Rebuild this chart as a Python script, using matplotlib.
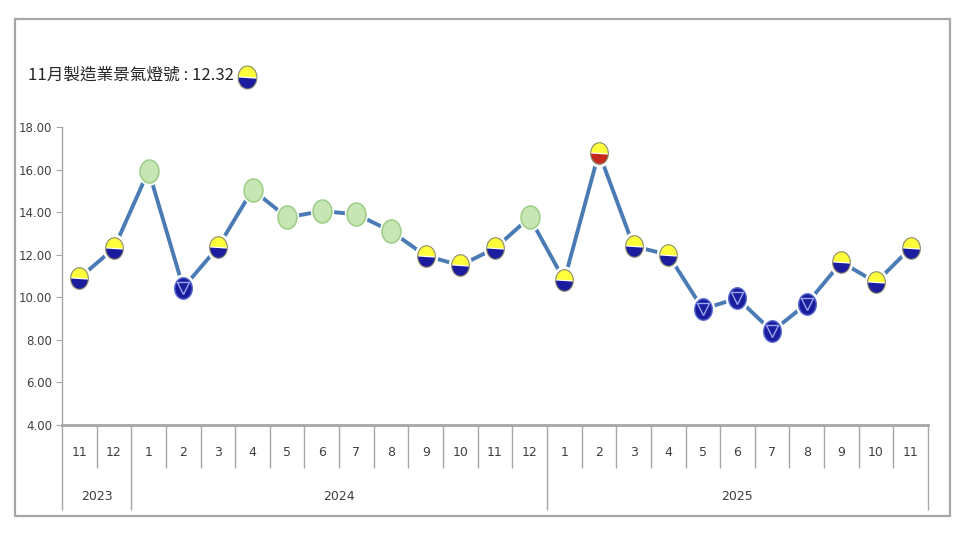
import numpy as np
import matplotlib
matplotlib.use("Agg")
import matplotlib.pyplot as plt
from matplotlib.path import Path
from matplotlib.patches import Rectangle

# monthly manufacturing business indicator score and its light signal
years = ["2023", "2023", "2024", "2024", "2024", "2024", "2024", "2024", "2024", "2024",
         "2024", "2024", "2024", "2024", "2025", "2025", "2025", "2025", "2025", "2025",
         "2025", "2025", "2025", "2025", "2025"]
months = [11, 12, 1, 2, 3, 4, 5, 6, 7, 8, 9, 10, 11, 12, 1, 2, 3, 4, 5, 6, 7, 8, 9, 10, 11]
values = [10.9, 12.3, 15.95, 10.45, 12.35, 15.05, 13.75, 14.05, 13.9, 13.1, 11.95, 11.5,
          12.3, 13.75, 10.8, 16.8, 12.4, 12.0, 9.45, 9.95, 8.4, 9.7, 11.65, 10.7, 12.32]
# yb = yellow-blue, g = green, b = blue, yr = yellow-red
signals = ["yb", "yb", "g", "b", "yb", "g", "g", "g", "g", "g", "yb", "yb",
           "yb", "g", "yb", "yr", "yb", "yb", "b", "b", "b", "b", "yb", "yb", "yb"]
y_ticks = [4, 6, 8, 10, 12, 14, 16, 18]

GRAY = "#a6a6a6"
LINE = "#4a7bb5"
YELLOW = "#ffff3c"
NAVY = "#1c1c9e"
RED = "#c62a1e"
GREEN = "#c8e6b4"
GREEN_EDGE = "#9fcf8a"

# ellipse shaped markers (a bit taller than wide like the original)
t_full = np.linspace(0, 2 * np.pi, 60)
t_top = np.linspace(0, np.pi, 30)
t_bot = np.linspace(np.pi, 2 * np.pi, 30)
ell = Path(np.column_stack([0.82 * np.cos(t_full), np.sin(t_full)]), closed=True)
top_half = Path(np.column_stack([0.82 * np.cos(t_top), np.sin(t_top)]), closed=True)
bot_half = Path(np.column_stack([0.82 * np.cos(t_bot), np.sin(t_bot)]), closed=True)

plt.rcParams["font.family"] = ["Liberation Sans Narrow", "DejaVu Sans"]

fig = plt.figure(figsize=(9.6, 5.4), dpi=100)
ax = fig.add_axes([62 / 960, 115 / 540, 866 / 960, 298 / 540])

x = np.arange(len(values))
ax.plot(x, values, color=LINE, lw=2.8, zorder=2, solid_capstyle="butt")

ms = 15.5
sig = np.array(signals)
vals = np.array(values)


def pts(kind):
    m = sig == kind
    return x[m], vals[m]


# white halo so the line stops short of each light
ax.plot(x, vals, ls="none", marker=ell, ms=ms + 5, mfc="white", mec="none", zorder=3)

# green
gx, gy = pts("g")
ax.plot(gx, gy, ls="none", marker=ell, ms=ms + 1, mfc=GREEN, mec=GREEN_EDGE, mew=1.2, zorder=4)

# yellow-blue and yellow-red
for kind, low in [("yb", NAVY), ("yr", RED)]:
    hx, hy = pts(kind)
    ax.plot(hx, hy, ls="none", marker=top_half, ms=ms, mfc=YELLOW, mec="none", zorder=4)
    ax.plot(hx, hy, ls="none", marker=bot_half, ms=ms, mfc=low, mec="none", zorder=4)
    ax.plot(hx, hy, ls="none", marker=ell, ms=ms, mfc="none", mec="#8a8a6a", mew=0.8, zorder=5)

# blue
bx, by = pts("b")
ax.plot(bx, by, ls="none", marker=ell, ms=ms, mfc=NAVY, mec="#5b6fd0", mew=1.0, zorder=4)
ax.plot(bx, by, ls="none", marker="v", ms=8.5, mfc=NAVY, mec="#9aa8ee", mew=1.0, zorder=5)

ax.set_xlim(-0.5, len(values) - 0.5)
ax.set_ylim(4, 18)
ax.set_yticks(y_ticks)
ax.set_yticklabels([f"{v:.2f}" for v in y_ticks], fontsize=8.5, color="#404040")
ax.set_xticks([])
ax.tick_params(axis="y", direction="out", length=4, color=GRAY, pad=3)
for s in ["top", "right"]:
    ax.spines[s].set_visible(False)
ax.spines["left"].set_color(GRAY)
ax.spines["left"].set_linewidth(1.0)
ax.spines["bottom"].set_color(GRAY)
ax.spines["bottom"].set_linewidth(2.0)

# two level category axis: months then years
xt = ax.get_xaxis_transform()
month_bottom = -43 / 298
year_bottom = -85 / 298
ax.vlines([-0.5, len(values) - 0.5], year_bottom, 0, transform=xt, colors=GRAY, lw=1.0, clip_on=False)
for i in range(1, len(values)):
    bottom = year_bottom if years[i] != years[i - 1] else month_bottom
    ax.vlines(i - 0.5, bottom, 0, transform=xt, colors=GRAY, lw=1.0, clip_on=False)
for i, m in enumerate(months):
    ax.text(i, -28 / 298, str(m), transform=xt, ha="center", va="center", fontsize=9, color="#404040")
for yr in dict.fromkeys(years):
    idx = [i for i, y in enumerate(years) if y == yr]
    ax.text((idx[0] + idx[-1]) / 2, -72 / 298, yr, transform=xt, ha="center", va="center",
            fontsize=9, color="#404040")

# title with the latest light
title = fig.text(28 / 960, 1 - 75 / 540, f"{months[-1]}月製造業景氣燈號 : {values[-1]:.2f}",
                 fontsize=12, color="#262626", ha="left", va="center",
                 family=["Noto Sans CJK TC", "DejaVu Sans"])
fig.canvas.draw()
bb = title.get_window_extent()
icon_x, icon_y = (bb.x1 + 13) / 960, 1 - 77 / 540
ax.plot([icon_x], [icon_y], transform=fig.transFigure, clip_on=False, ls="none",
        marker=top_half, ms=ms + 1, mfc=YELLOW, mec="none")
ax.plot([icon_x], [icon_y], transform=fig.transFigure, clip_on=False, ls="none",
        marker=bot_half, ms=ms + 1, mfc=NAVY, mec="none")
ax.plot([icon_x], [icon_y], transform=fig.transFigure, clip_on=False, ls="none",
        marker=ell, ms=ms + 1, mfc="none", mec="#8a8a6a", mew=0.8)

# outer frame
fig.patches.append(Rectangle((15 / 960, 1 - 516 / 540), 935 / 960, 497 / 540,
                             transform=fig.transFigure, fill=False, ec=GRAY, lw=1.6))

fig.savefig("out.png", dpi=100, facecolor="white")
